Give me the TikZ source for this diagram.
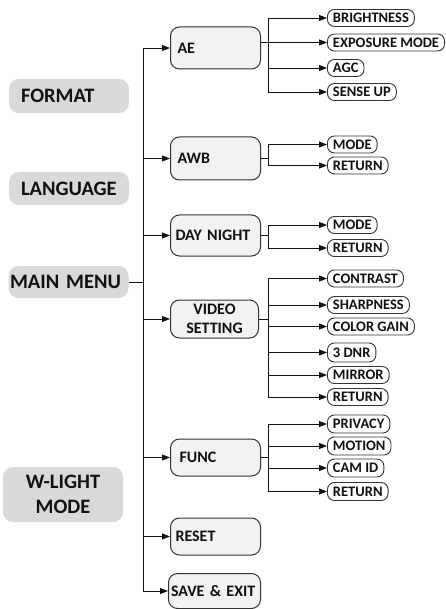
\documentclass[tikz,border=0pt]{standalone}
\usepackage{fontspec}
\setmainfont{Carlito}
\usetikzlibrary{arrows.meta}
\definecolor{lg}{HTML}{D9D9D9}
\definecolor{mf}{HTML}{F2F2F2}
\definecolor{bd}{HTML}{333333}
\definecolor{tx}{HTML}{111111}
\tikzset{
  big/.style={fill=lg, rounded corners=10pt, text=tx, font=\fontsize{20.5}{25}\selectfont\bfseries, inner ysep=0pt},
  mid/.style={draw=bd, fill=mf, line width=1pt, rounded corners=9pt, text=tx, anchor=west,
    font=\fontsize{16}{19}\selectfont\bfseries, inner ysep=0pt, align=left},
  leaf/.style={draw=bd, fill=white, line width=0.9pt, rounded corners=7pt, text=tx, anchor=west,
    font=\fontsize{14.5}{16}\selectfont\bfseries, inner xsep=5.5pt, inner ysep=0pt, minimum height=17pt},
  ln/.style={draw=tx, line width=0.9pt},
  arr/.style={draw=tx, line width=0.9pt, -{Triangle[length=8pt,width=6pt]}}
}
\begin{document}
\begin{tikzpicture}[x=1pt,y=-1pt]
\path[use as bounding box, fill=white] (0,0) rectangle (445,609);

% left menu boxes
\node[big, text width=96pt, inner xsep=12pt, minimum height=34pt, align=left] (fmt) at (69,96) {FORMAT};
\node[big, text width=96pt, inner xsep=12pt, minimum height=33pt, align=left] (lang) at (69,188.5) {LANGUAGE};
\node[big, text width=117pt, inner xsep=1.5pt, minimum height=32pt, align=left] (mm) at (68.5,282) {MAIN MENU};
\node[big, text width=120pt, inner xsep=0pt, minimum height=55pt, align=center] (wl) at (63,494.5) {W-LIGHT\\MODE};

% second level
\node[mid, text width=76pt, inner xsep=7pt, minimum height=42pt] (ae) at (170,48) {AE};
\node[mid, text width=76pt, inner xsep=7pt, minimum height=43pt] (awb) at (170,158.5) {AWB};
\node[mid, text width=80pt, inner xsep=5pt, minimum height=41pt] (dn) at (170,235.5) {\mbox{DAY NIGHT}};
\node[mid, text width=80pt, inner xsep=4pt, minimum height=38pt, align=center] (vs) at (170,319) {VIDEO\\SETTING};
\node[mid, text width=72pt, inner xsep=9pt, minimum height=37pt] (fn) at (170,457.5) {FUNC};
\node[mid, text width=80pt, inner xsep=5pt, minimum height=37pt] (rs) at (170,536.5) {RESET};
\node[mid, text width=87pt, inner xsep=2.5pt, minimum height=35pt] (se) at (168,591) {\mbox{SAVE \& EXIT}};

% leaves
\node[leaf] (bri) at (327,18) {BRIGHTNESS};
\node[leaf] (exp) at (327,42.5) {EXPOSURE MODE};
\node[leaf] (agc) at (327,68) {AGC};
\node[leaf] (sen) at (327,92) {SENSE UP\hspace{1pt}};
\node[leaf] (m1) at (327,144.5) {MODE};
\node[leaf] (r1) at (327,165.5) {RETURN};
\node[leaf] (m2) at (327,225) {MODE};
\node[leaf] (r2) at (327,248) {RETURN};
\node[leaf] (con) at (327,278.5) {CONTRAST};
\node[leaf] (sha) at (327,305) {SHARPNESS};
\node[leaf] (cg) at (327,326.5) {COLOR GAIN};
\node[leaf, minimum height=19pt] (dnr) at (327,352.5) {3 DNR\hspace{10pt}};
\node[leaf] (mir) at (327,375) {MIRROR};
\node[leaf] (r3) at (327,397) {RETURN};
\node[leaf, minimum height=18pt] (pri) at (327,424) {PRIVACY};
\node[leaf, minimum height=18pt] (mot) at (327,446) {MOTION};
\node[leaf, minimum height=18pt] (cam) at (327,468) {CAM ID};
\node[leaf, minimum height=18pt] (r4) at (327,491.5) {RETURN};

% trunk
\coordinate (tt) at (143.3,48);
\coordinate (tb) at (143.3,591);
\coordinate (bx) at (268,0);
\draw[ln] (tt) -- (tb);
\draw[ln] (mm.east) -- (mm.east -| tt);
\foreach \n in {ae,awb,dn,vs,fn,rs,se}
  \draw[arr] (tt |- \n.west) -- (\n.west);

% AE branch
\draw[ln] (ae.east |- exp.west) -- (bx |- exp.west);
\draw[ln] (bx |- bri.west) -- (bx |- sen.west);
\foreach \n in {bri,exp,agc,sen}
  \draw[arr] (bx |- \n.west) -- (\n.west);

% AWB branch
\draw[ln] (awb.east) -- (bx |- awb.east);
\draw[ln] (bx |- m1.west) -- (bx |- r1.west);
\foreach \n in {m1,r1}
  \draw[arr] (bx |- \n.west) -- (\n.west);

% DAY NIGHT branch
\draw[ln] (dn.east) -- (bx |- dn.east);
\draw[ln] (bx |- m2.west) -- (bx |- r2.west);
\foreach \n in {m2,r2}
  \draw[arr] (bx |- \n.west) -- (\n.west);

% VIDEO SETTING branch
\draw[ln] (vs.east) -- (bx |- vs.east);
\draw[ln] (bx |- con.west) -- (bx |- r3.west);
\foreach \n in {con,sha,cg,dnr,mir,r3}
  \draw[arr] (bx |- \n.west) -- (\n.west);

% FUNC branch
\draw[ln] (fn.east) -- (bx |- fn.east);
\draw[ln] (bx |- pri.west) -- (bx |- r4.west);
\foreach \n in {pri,mot,cam,r4}
  \draw[arr] (bx |- \n.west) -- (\n.west);
\end{tikzpicture}
\end{document}
